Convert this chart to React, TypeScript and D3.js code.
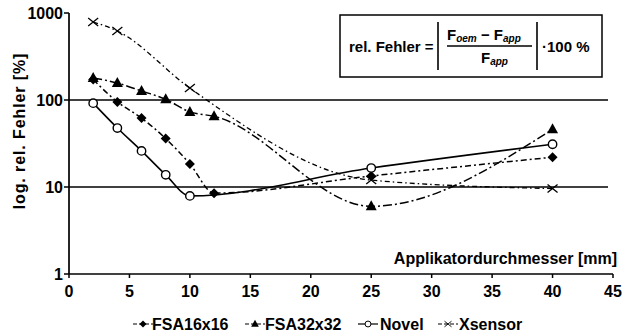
import * as d3 from "d3"

// Applikatordurchmesser [mm] vs. relativer Fehler [%]
const fsa16X = [2, 4, 6, 8, 10, 12, 25, 40]
const fsa16Y = [172, 95, 62, 36, 18.4, 8.5, 13.4, 22]
const fsa32X = [2, 4, 6, 8, 10, 12, 25, 40]
const fsa32Y = [179, 157, 127, 102, 73, 65, 6.0, 46]
const novelX = [2, 4, 6, 8, 10, 25, 40]
const novelY = [92, 47.6, 26, 13.8, 7.9, 16.5, 31]
const xsensorX = [2, 4, 10, 25, 40]
const xsensorY = [788, 621, 137, 12, 9.6]

const xTicks = [0, 5, 10, 15, 20, 25, 30, 35, 40, 45]
const yTicks = [1, 10, 100, 1000]
const gridValues = [10, 100]

const W = 627
const H = 335
const font = "'Liberation Sans', Arial, sans-serif"

type Series = { name: string; xs: number[]; ys: number[]; dash: string; width: number; marker: string }

const series: Series[] = [
    { name: "FSA16x16", xs: fsa16X, ys: fsa16Y, dash: "6,3,2,3", width: 1.5, marker: "diamond" },
    { name: "FSA32x32", xs: fsa32X, ys: fsa32Y, dash: "9,3,2,3", width: 1.5, marker: "triangle" },
    { name: "Novel", xs: novelX, ys: novelY, dash: "", width: 1.6, marker: "circle" },
    { name: "Xsensor", xs: xsensorX, ys: xsensorY, dash: "5,3,1.5,3", width: 1.3, marker: "cross" },
]

function Marker({ type, x, y }: { type: string; x: number; y: number }) {
    if (type === "diamond") {
        return <path d={`M${x},${y - 5}L${x + 5},${y}L${x},${y + 5}L${x - 5},${y}Z`} fill="#000" />
    }
    if (type === "triangle") {
        return <path d={`M${x},${y - 6}L${x + 5.5},${y + 4}L${x - 5.5},${y + 4}Z`} fill="#000" />
    }
    if (type === "circle") {
        return <circle cx={x} cy={y} r={4.2} fill="#fff" stroke="#000" strokeWidth={1.4} />
    }
    return (
        <path d={`M${x - 5},${y - 4}L${x + 5},${y + 4}M${x - 5},${y + 4}L${x + 5},${y - 4}`} stroke="#000" strokeWidth={1.3} />
    )
}

export default function App() {
    const x = d3.scaleLinear().domain([0, 45]).range([69, 613])
    const y = d3.scaleLog().domain([1, 1000]).range([274, 13])

    const line = d3.line<[number, number]>()
        .x(d => x(d[0]))
        .y(d => y(d[1]))
        .curve(d3.curveMonotoneX)

    const legendItems = [
        { s: series[0], sx: 143, tx: 152 },
        { s: series[1], sx: 255, tx: 265 },
        { s: series[2], sx: 368, tx: 380 },
        { s: series[3], sx: 448, tx: 459 },
    ]

    return (
        <div style={{ position: "fixed", left: 0, top: 0 }}>
            <svg width={W} height={H} style={{ display: "block", background: "#fff" }} fontFamily={font}>
                {/* gridlines */}
                {gridValues.map(v => (
                    <line key={v} x1={x(0)} x2={608} y1={y(v)} y2={y(v)} stroke="#000" strokeWidth={1.6} />
                ))}

                {/* axes */}
                <line x1={x(0)} x2={x(0)} y1={y(1000)} y2={y(1)} stroke="#000" strokeWidth={1.7} />
                <line x1={x(0)} x2={x(45)} y1={y(1)} y2={y(1)} stroke="#000" strokeWidth={1.7} />
                {yTicks.map(t => (
                    <g key={t}>
                        <line x1={x(0) - 5} x2={x(0)} y1={y(t)} y2={y(t)} stroke="#000" strokeWidth={1.5} />
                        <text x={x(0) - 6} y={y(t)} dy="0.35em" textAnchor="end" fontSize={16} fontWeight="bold">{t}</text>
                    </g>
                ))}
                {xTicks.map(t => (
                    <g key={t}>
                        <line x1={x(t)} x2={x(t)} y1={y(1)} y2={y(1) + 4} stroke="#000" strokeWidth={1.5} />
                        <text x={x(t)} y={y(1) + 23} textAnchor="middle" fontSize={16} fontWeight="bold">{t}</text>
                    </g>
                ))}

                <text transform={`translate(25,131) rotate(-90)`} textAnchor="middle" fontSize={16} fontWeight="bold"
                    letterSpacing={0.9}>
                    log. rel. Fehler [%]
                </text>
                <text x={617} y={264} textAnchor="end" fontSize={16} fontWeight="bold">Applikatordurchmesser [mm]</text>

                {/* series */}
                {series.map(s => {
                    const pts = s.xs.map((v, i) => [v, s.ys[i]] as [number, number])
                    return (
                        <g key={s.name}>
                            <path d={line(pts) ?? ""} fill="none" stroke="#000" strokeWidth={s.width}
                                strokeDasharray={s.dash || undefined} />
                            {pts.map((p, i) => <Marker key={i} type={s.marker} x={x(p[0])} y={y(p[1])} />)}
                        </g>
                    )
                })}

                {/* formula box */}
                <rect x={340} y={15} width={262} height={62} fill="#fff" stroke="#000" strokeWidth={1.5} />
                <text x={349} y={52} fontSize={15} fontWeight="bold">rel. Fehler =</text>
                <line x1={438} x2={438} y1={22} y2={70} stroke="#000" strokeWidth={1.6} />
                <line x1={537} x2={537} y1={22} y2={70} stroke="#000" strokeWidth={1.6} />
                <text x={447} y={40} fontSize={15} fontWeight="bold">
                    F<tspan fontSize={10} fontStyle="italic" dy={2}>oem</tspan>
                    <tspan dy={-2}> − F</tspan>
                    <tspan fontSize={10} fontStyle="italic" dy={2}>app</tspan>
                </text>
                <line x1={447} x2={532} y1={46} y2={46} stroke="#000" strokeWidth={1.3} />
                <text x={481} y={63} fontSize={15} fontWeight="bold">
                    F<tspan fontSize={10} fontStyle="italic" dy={2}>app</tspan>
                </text>
                <text x={542} y={52} fontSize={15} fontWeight="bold">·100 %</text>

                {/* legend */}
                {legendItems.map(({ s, sx, tx }) => (
                    <g key={s.name}>
                        <line x1={sx - 10} x2={sx + 10} y1={324} y2={324} stroke="#000" strokeWidth={1.2}
                            strokeDasharray={s.dash ? "4,2" : undefined} />
                        <g transform={`translate(${sx},324) scale(0.7) translate(${-sx},-324)`}>
                            <Marker type={s.marker} x={sx} y={324} />
                        </g>
                        <text x={tx} y={330} fontSize={16} fontWeight="bold">{s.name}</text>
                    </g>
                ))}
            </svg>
        </div>
    )
}
